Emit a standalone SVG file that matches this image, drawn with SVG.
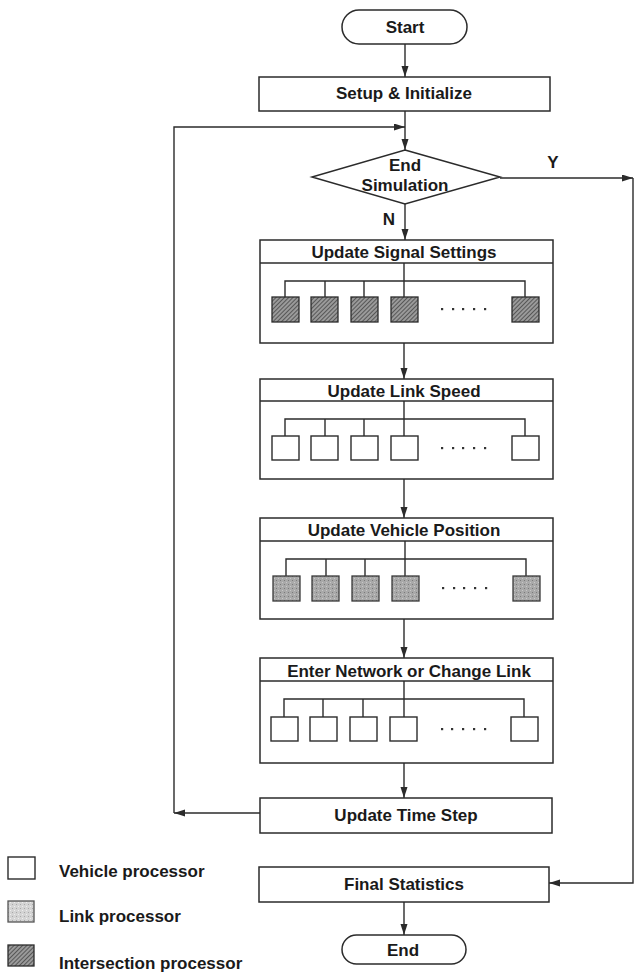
<svg xmlns="http://www.w3.org/2000/svg" width="635" height="977" viewBox="0 0 635 977">
<defs>
<style>
.t{font-family:"Liberation Sans",Arial,Helvetica,sans-serif;font-weight:bold;font-size:17px;fill:#1a1a1a;text-anchor:middle}
.l{font-family:"Liberation Sans",Arial,Helvetica,sans-serif;font-weight:bold;font-size:17px;fill:#1a1a1a;text-anchor:start}
.box{fill:#fff;stroke:#2b2b2b;stroke-width:1.5}
.ln{fill:none;stroke:#2b2b2b;stroke-width:1.4}
.c{fill:none;stroke:#2b2b2b;stroke-width:1.4}
.ip{fill:url(#hatch);stroke:#2b2b2b;stroke-width:1.3}
.lp{fill:url(#stip);stroke:#3a3a3a;stroke-width:1.3}
.vp{fill:#fff;stroke:#2b2b2b;stroke-width:1.4}
.dot{fill:#333}
</style>
<pattern id="hatch" patternUnits="userSpaceOnUse" width="3" height="3" patternTransform="rotate(45)">
<rect width="3" height="3" fill="#9a9a9a"/>
<line x1="0" y1="0" x2="0" y2="3" stroke="#3a3a3a" stroke-width="1.4"/>
</pattern>
<pattern id="stip" patternUnits="userSpaceOnUse" width="4" height="4">
<rect width="4" height="4" fill="#a9a9a9"/>
<rect x="0" y="0" width="1" height="1" fill="#7a7a7a"/>
<rect x="2" y="2" width="1" height="1" fill="#c8c8c8"/>
</pattern>
<pattern id="stipL" patternUnits="userSpaceOnUse" width="4" height="4">
<rect width="4" height="4" fill="#d4d4d4"/>
<rect x="0" y="0" width="1" height="1" fill="#a8a8a8"/>
<rect x="2" y="2" width="1" height="1" fill="#eeeeee"/>
</pattern>
<marker id="arr" markerUnits="userSpaceOnUse" markerWidth="12" markerHeight="8" refX="11" refY="3.5" orient="auto">
<path d="M0,0 L11,3.5 L0,7 z" fill="#2b2b2b"/>
</marker>
</defs>
<rect width="635" height="977" fill="#fff"/>

<g id="connectors">
<line class="c" x1="405" y1="44" x2="405" y2="77" marker-end="url(#arr)"/>
<line class="c" x1="405" y1="111" x2="405" y2="150" marker-end="url(#arr)"/>
<line class="c" x1="500" y1="178" x2="633" y2="178" marker-end="url(#arr)"/>
<line class="c" x1="405" y1="204" x2="405" y2="240" marker-end="url(#arr)"/>
<line class="c" x1="404" y1="343" x2="404" y2="379" marker-end="url(#arr)"/>
<line class="c" x1="404" y1="479" x2="404" y2="518" marker-end="url(#arr)"/>
<line class="c" x1="404" y1="619" x2="404" y2="658" marker-end="url(#arr)"/>
<line class="c" x1="404" y1="763" x2="404" y2="798" marker-end="url(#arr)"/>
<line class="c" x1="260" y1="813" x2="174" y2="813" marker-end="url(#arr)"/>
<polyline class="c" points="174,813 174,127 405,127" marker-end="url(#arr)"/>
<polyline class="c" points="633,178 633,883 549,883" marker-end="url(#arr)"/>
<line class="c" x1="404" y1="902" x2="404" y2="935" marker-end="url(#arr)"/>
<text class="t" x="553" y="168">Y</text>
<text class="t" x="389" y="225">N</text>
</g>

<g id="start">
<rect class="box" x="342" y="10" width="125" height="34" rx="17"/>
<text class="t" x="405" y="33">Start</text>
</g>

<g id="setup">
<rect class="box" x="259" y="77" width="291" height="34"/>
<text class="t" x="404" y="99">Setup &amp; Initialize</text>
</g>

<g id="decision">
<polygon class="box" points="405,150 500,177 405,204 312,177"/>
<text class="t" x="405" y="171">End</text>
<text class="t" x="405" y="191">Simulation</text>
</g>

<g id="signal">
<rect class="box" x="260" y="240" width="293" height="103"/>
<line class="ln" x1="260" y1="263" x2="553" y2="263"/>
<text class="t" x="404" y="258">Update Signal Settings</text>
<polyline class="ln" points="285,297 285,281 525,281 525,297"/>
<line class="ln" x1="325" y1="281" x2="325" y2="297"/>
<line class="ln" x1="364" y1="281" x2="364" y2="297"/>
<line class="ln" x1="404" y1="263" x2="404" y2="297"/>
<rect class="ip" x="272" y="297" width="27" height="25"/>
<rect class="ip" x="311" y="297" width="27" height="25"/>
<rect class="ip" x="351" y="297" width="27" height="25"/>
<rect class="ip" x="391" y="297" width="27" height="25"/>
<rect class="ip" x="512" y="297" width="27" height="25"/>
<g class="dot"><rect x="441" y="308" width="2.2" height="2.2"/><rect x="452" y="308" width="2.2" height="2.2"/><rect x="462" y="308" width="2.2" height="2.2"/><rect x="473" y="308" width="2.2" height="2.2"/><rect x="484" y="308" width="2.2" height="2.2"/></g>
</g>

<g id="linkspeed">
<rect class="box" x="260" y="379" width="293" height="100"/>
<line class="ln" x1="260" y1="401" x2="553" y2="401"/>
<text class="t" x="404" y="397">Update Link Speed</text>
<polyline class="ln" points="285,436 285,419 525,419 525,436"/>
<line class="ln" x1="325" y1="419" x2="325" y2="436"/>
<line class="ln" x1="364" y1="419" x2="364" y2="436"/>
<line class="ln" x1="404" y1="401" x2="404" y2="436"/>
<rect class="vp" x="272" y="436" width="27" height="24"/>
<rect class="vp" x="311" y="436" width="27" height="24"/>
<rect class="vp" x="351" y="436" width="27" height="24"/>
<rect class="vp" x="391" y="436" width="27" height="24"/>
<rect class="vp" x="512" y="436" width="27" height="24"/>
<g class="dot"><rect x="441" y="447" width="2.2" height="2.2"/><rect x="452" y="447" width="2.2" height="2.2"/><rect x="462" y="447" width="2.2" height="2.2"/><rect x="473" y="447" width="2.2" height="2.2"/><rect x="484" y="447" width="2.2" height="2.2"/></g>
</g>

<g id="vehpos">
<rect class="box" x="260" y="518" width="293" height="101"/>
<line class="ln" x1="260" y1="541" x2="553" y2="541"/>
<text class="t" x="404" y="536">Update Vehicle Position</text>
<polyline class="ln" points="286,576 286,559 526,559 526,576"/>
<line class="ln" x1="326" y1="559" x2="326" y2="576"/>
<line class="ln" x1="365" y1="559" x2="365" y2="576"/>
<line class="ln" x1="405" y1="541" x2="405" y2="576"/>
<rect class="lp" x="273" y="576" width="27" height="25"/>
<rect class="lp" x="312" y="576" width="27" height="25"/>
<rect class="lp" x="352" y="576" width="27" height="25"/>
<rect class="lp" x="392" y="576" width="27" height="25"/>
<rect class="lp" x="513" y="576" width="27" height="25"/>
<g class="dot"><rect x="442" y="587" width="2.2" height="2.2"/><rect x="453" y="587" width="2.2" height="2.2"/><rect x="463" y="587" width="2.2" height="2.2"/><rect x="474" y="587" width="2.2" height="2.2"/><rect x="485" y="587" width="2.2" height="2.2"/></g>
</g>

<g id="enternet">
<rect class="box" x="260" y="658" width="293" height="105"/>
<line class="ln" x1="260" y1="681" x2="553" y2="681"/>
<text class="t" x="409" y="677">Enter Network or Change Link</text>
<polyline class="ln" points="284,717 284,699 524,699 524,717"/>
<line class="ln" x1="323" y1="699" x2="323" y2="717"/>
<line class="ln" x1="363" y1="699" x2="363" y2="717"/>
<line class="ln" x1="404" y1="681" x2="404" y2="717"/>
<rect class="vp" x="271" y="717" width="27" height="24"/>
<rect class="vp" x="310" y="717" width="27" height="24"/>
<rect class="vp" x="350" y="717" width="27" height="24"/>
<rect class="vp" x="390" y="717" width="27" height="24"/>
<rect class="vp" x="511" y="717" width="27" height="24"/>
<g class="dot"><rect x="441" y="728" width="2.2" height="2.2"/><rect x="451" y="728" width="2.2" height="2.2"/><rect x="462" y="728" width="2.2" height="2.2"/><rect x="473" y="728" width="2.2" height="2.2"/><rect x="484" y="728" width="2.2" height="2.2"/></g>
</g>

<g id="timestep">
<rect class="box" x="260" y="798" width="292" height="35"/>
<text class="t" x="406" y="821">Update Time Step</text>
</g>

<g id="final">
<rect class="box" x="259" y="867" width="290" height="35"/>
<text class="t" x="404" y="890">Final Statistics</text>
</g>

<g id="end">
<rect class="box" x="342" y="935" width="124" height="29" rx="14.5"/>
<text class="t" x="403" y="956">End</text>
</g>

<g id="legend-vehicle">
<rect class="vp" x="8" y="857" width="27" height="22"/>
<text class="l" x="59" y="877">Vehicle processor</text>
</g>
<g id="legend-link">
<rect x="8" y="901" width="26" height="21" fill="url(#stipL)" stroke="#555" stroke-width="1.3"/>
<text class="l" x="59" y="922">Link processor</text>
</g>
<g id="legend-intersection">
<rect class="ip" x="8" y="945" width="26" height="21"/>
<text class="l" x="59" y="969">Intersection processor</text>
</g>
</svg>
